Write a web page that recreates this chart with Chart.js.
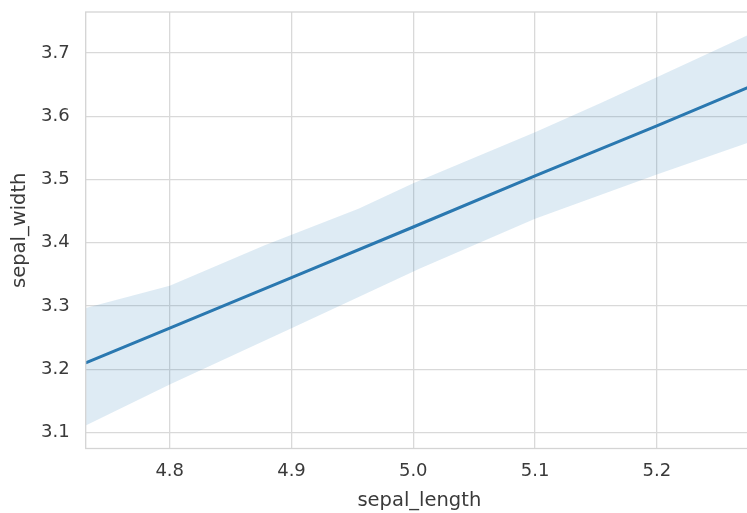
<!DOCTYPE html>
<html>
<head>
<meta charset="utf-8">
<script src="https://cdn.jsdelivr.net/npm/chart.js@4/dist/chart.umd.min.js"></script>
<style>
  html, body { margin: 0; padding: 0; background: #ffffff; overflow: hidden; }
  #wrap { width: 747px; height: 513px; overflow: hidden; }
</style>
</head>
<body>
<div id="wrap"><canvas id="c" width="753" height="513"></canvas></div>
<script>
// Regression line (sepal_length -> sepal_width)
const lineX = [4.731, 4.8, 4.9, 5.0, 5.1, 5.2, 5.279];
const lineY = [3.210, 3.265, 3.345, 3.425, 3.506, 3.585, 3.649];
// Confidence band edges
const upperX = [4.731, 4.8, 4.878, 4.955, 5.0, 5.1, 5.154, 5.2, 5.279];
const upperY = [3.297, 3.332, 3.396, 3.454, 3.494, 3.575, 3.621, 3.662, 3.732];
const lowerX = [4.731, 4.8, 4.9, 5.005, 5.1, 5.2, 5.279];
const lowerY = [3.111, 3.176, 3.265, 3.359, 3.438, 3.508, 3.561];
// Axis ranges and ticks
const xRange = [4.731, 5.279];
const yRange = [3.0747, 3.765];
const xTicks = [4.8, 4.9, 5.0, 5.1, 5.2];
const yTicks = [3.1, 3.2, 3.3, 3.4, 3.5, 3.6, 3.7];
const xTitle = 'sepal_length';
const yTitle = 'sepal_width';

const pts = (xs, ys) => xs.map((x, i) => ({ x: x, y: ys[i] }));

const frame = {
  id: 'frame',
  afterDraw(chart) {
    const a = chart.chartArea, ctx = chart.ctx;
    ctx.save();
    ctx.strokeStyle = '#d4d4d4';
    ctx.lineWidth = 1.3;
    ctx.strokeRect(a.left, a.top, a.right - a.left + 5, a.bottom - a.top);
    ctx.restore();
  }
};

const gridColor = '#d9d9d9';
const textColor = '#3a3a3a';
const fam = "'DejaVu Sans', sans-serif";

new Chart(document.getElementById('c'), {
  type: 'scatter',
  data: {
    datasets: [
      { data: pts(upperX, upperY), showLine: true, borderWidth: 0, pointRadius: 0,
        borderColor: 'rgba(0,0,0,0)', fill: false, order: 3 },
      { data: pts(lowerX, lowerY), showLine: true, borderWidth: 0, pointRadius: 0,
        borderColor: 'rgba(0,0,0,0)', fill: '-1', backgroundColor: 'rgba(31,119,180,0.15)', order: 2 },
      { data: pts(lineX, lineY), showLine: true, borderWidth: 3, pointRadius: 0,
        borderColor: '#2a78b0', fill: false, order: 1 }
    ]
  },
  options: {
    responsive: false,
    animation: false,
    events: [],
    layout: { padding: { top: 12, right: 0, left: 0, bottom: 0 } },
    plugins: { legend: { display: false }, tooltip: { enabled: false } },
    scales: {
      x: {
        type: 'linear', min: xRange[0], max: xRange[1],
        afterBuildTicks: s => { s.ticks = xTicks.map(v => ({ value: v })); },
        afterFit: s => { s.height = 64.5; s.paddingLeft = 0; s.paddingRight = 0; },
        grid: { color: gridColor, lineWidth: 1.3, drawTicks: false },
        border: { display: false },
        ticks: { padding: 12, color: textColor, font: { family: fam, size: 18 },
                 maxRotation: 0, autoSkip: false, callback: v => v.toFixed(1) },
        title: { display: true, text: xTitle, color: textColor,
                 font: { family: fam, size: 19.5 }, padding: { top: 0, bottom: 0 } }
      },
      y: {
        type: 'linear', min: yRange[0], max: yRange[1],
        afterBuildTicks: s => { s.ticks = yTicks.map(v => ({ value: v })); },
        afterFit: s => { s.width = 85.7; s.paddingTop = 0; s.paddingBottom = 0; },
        grid: { color: gridColor, lineWidth: 1.3, drawTicks: false },
        border: { display: false },
        ticks: { padding: 16, color: textColor, font: { family: fam, size: 18 },
                 autoSkip: false, callback: v => v.toFixed(1) },
        title: { display: true, text: yTitle, color: textColor,
                 font: { family: fam, size: 19.5 }, padding: { top: 8, bottom: 0 } }
      }
    }
  },
  plugins: [frame]
});
</script>
</body>
</html>
